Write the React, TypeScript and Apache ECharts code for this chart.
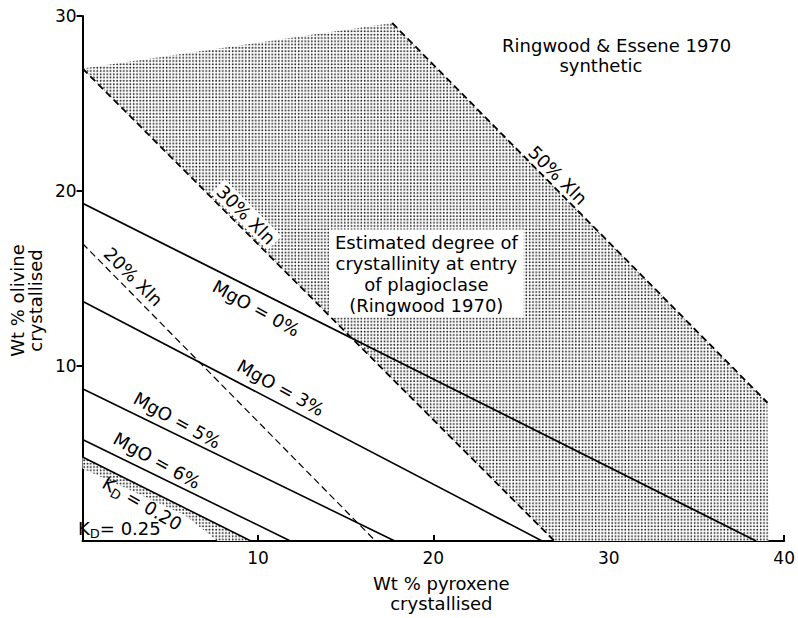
import React, { useEffect, useRef } from 'react';
import * as echarts from 'echarts';

// Straight-line trends (wt% pyroxene, wt% olivine)
const mgo0Line = [[0, 19.3], [38.4, 0]];
const mgo3Line = [[0, 13.7], [26.2, 0]];
const mgo5Line = [[0, 8.7], [17.8, 0]];
const mgo6Line = [[0, 5.8], [11.85, 0]];
const kd020Line = [[0, 4.8], [9.6, 0]];
const xln20Line = [[0, 17.0], [16.7, 0]];
const xln30Line = [[0, 27.0], [26.9, 0]];
const xln50Line = [[17.65, 29.6], [39.05, 7.9]];

// Shaded regions
const plagioclaseRegion = [[0, 27], [17.65, 29.6], [39.05, 7.9], [39.1, 0], [26.9, 0]];
const kd025Band = [[0, 4.8], [9.6, 0], [7.7, 0], [5.8, 1.5], [0, 4.15]];

// Line labels
const lineLabelTexts = ['MgO = 0%', 'MgO = 3%', 'MgO = 5%', 'MgO = 6%', '20% Xln', '30% Xln', '50% Xln'];
const lineLabelAnchors = [[9.9, 13.3], [11.3, 8.76], [5.4, 6.9], [4.25, 4.6], [2.9, 15.1], [9.33, 18.64], [27.1, 20.9]];
const lineLabelAngles = [-29, -29, -29, -29, -45, -45, -45];

const kdLabelValues = ['0.20', '0.25'];
const kdLabelAnchors = [[3.4, 2.15], [2.1, 0.73]];
const kdLabelAngles = [-30, 0];

const sourceTexts = ['Ringwood & Essene 1970', 'synthetic'];
const sourceAnchors = [[30.45, 28.3], [29.55, 27.2]];

const boxLines = ['Estimated degree of', 'crystallinity at entry', 'of plagioclase', '(Ringwood 1970)'];
const boxAnchor = [[19.6, 15.28]];

const FONT = 'DejaVu Sans';

const dotSvg =
  "<svg xmlns='http://www.w3.org/2000/svg' width='6.6' height='6.6'>" +
  "<rect width='6.6' height='6.6' fill='white'/>" +
  "<circle cx='1.65' cy='1.65' r='0.9' fill='#111'/>" +
  "<circle cx='4.95' cy='1.65' r='0.9' fill='#111'/>" +
  "<circle cx='1.65' cy='4.95' r='0.9' fill='#111'/>" +
  "<circle cx='4.95' cy='4.95' r='0.9' fill='#111'/>" +
  '</svg>';
const stipple: any = {
  image: 'data:image/svg+xml;utf8,' + encodeURIComponent(dotSvg),
  repeat: 'repeat',
  imageWidth: 6.6,
  imageHeight: 6.6,
};

function polygonSeries(name: string, pts: number[][]) {
  return {
    name,
    type: 'custom',
    coordinateSystem: 'cartesian2d',
    silent: true,
    z: 1,
    data: pts,
    renderItem: (params: any, api: any) => {
      if (params.dataIndex !== 0) return null;
      return {
        type: 'polygon',
        shape: { points: pts.map((p) => api.coord(p)) },
        style: { fill: stipple, stroke: 'none' },
      };
    },
  };
}

function lineSeries(name: string, data: number[][], dashed: boolean, width = 1.6) {
  return {
    name,
    type: 'line',
    data,
    symbol: 'none',
    silent: true,
    z: 3,
    lineStyle: { color: '#000', width, type: dashed ? [7, 4] : 'solid' },
  };
}

export default function App() {
  const ref = useRef<HTMLDivElement>(null);
  useEffect(() => {
    if (!ref.current) return;
    const chart = echarts.init(ref.current, undefined, { renderer: 'svg' });
    const textBase = { fontFamily: FONT, fontSize: 18, fill: '#000' };
    chart.setOption({
      animation: false,
      backgroundColor: '#fff',
      grid: { left: 71, right: 11, top: 16, bottom: 71, containLabel: false },
      xAxis: {
        type: 'value',
        min: 0,
        max: 40,
        interval: 10,
        name: 'Wt % pyroxene\ncrystallised',
        nameLocation: 'middle',
        nameGap: 32,
        nameTextStyle: { fontFamily: FONT, fontSize: 18, color: '#000', lineHeight: 20, padding: [0, 0, 0, 16] },
        axisLine: { lineStyle: { color: '#000', width: 2 } },
        axisTick: { inside: true, length: 6, lineStyle: { color: '#000', width: 2 } },
        axisLabel: { showMinLabel: false, fontFamily: FONT, fontSize: 17, color: '#000', margin: 8 },
        splitLine: { show: false },
      },
      yAxis: {
        type: 'value',
        min: 0,
        max: 30,
        interval: 10,
        name: 'Wt % olivine\ncrystallised',
        nameLocation: 'middle',
        nameRotate: 90,
        nameGap: 29,
        nameTextStyle: { fontFamily: FONT, fontSize: 18, color: '#000', lineHeight: 18, padding: [0, 44, 0, 0] },
        axisLine: { lineStyle: { color: '#000', width: 2 } },
        axisTick: { inside: false, length: 6, lineStyle: { color: '#000', width: 2 } },
        axisLabel: { showMinLabel: false, fontFamily: FONT, fontSize: 17, color: '#000', margin: 6 },
        splitLine: { show: false },
      },
      series: [
        polygonSeries('Plagioclase entry', plagioclaseRegion),
        polygonSeries('KD 0.25', kd025Band),
        lineSeries('MgO = 0%', mgo0Line, false, 1.8),
        lineSeries('MgO = 3%', mgo3Line, false),
        lineSeries('MgO = 5%', mgo5Line, false),
        lineSeries('MgO = 6%', mgo6Line, false),
        lineSeries('KD = 0.20', kd020Line, false),
        lineSeries('20% Xln', xln20Line, true, 1.2),
        lineSeries('30% Xln', xln30Line, true, 1.8),
        lineSeries('50% Xln', xln50Line, true, 1.8),
        {
          name: 'line labels',
          type: 'custom',
          coordinateSystem: 'cartesian2d',
          silent: true,
          z: 5,
          data: lineLabelAnchors,
          renderItem: (params: any, api: any) => {
            const i = params.dataIndex;
            const p = api.coord([api.value(0), api.value(1)]);
            const onShade = lineLabelTexts[i] === '30% Xln';
            return {
              type: 'text',
              x: p[0],
              y: p[1],
              rotation: (lineLabelAngles[i] * Math.PI) / 180,
              style: {
                ...textBase,
                text: lineLabelTexts[i],
                align: 'center',
                verticalAlign: 'middle',
                backgroundColor: onShade ? '#fff' : undefined,
                padding: onShade ? [1, 3] : 0,
              },
            };
          },
        },
        {
          name: 'KD labels',
          type: 'custom',
          coordinateSystem: 'cartesian2d',
          silent: true,
          z: 5,
          data: kdLabelAnchors,
          renderItem: (params: any, api: any) => {
            const i = params.dataIndex;
            const p = api.coord([api.value(0), api.value(1)]);
            const sep = i === 0 ? ' = ' : '= ';
            return {
              type: 'text',
              x: p[0],
              y: p[1],
              rotation: (kdLabelAngles[i] * Math.PI) / 180,
              style: {
                fontFamily: FONT,
                fill: '#000',
                text: '{a|K}{b|D}{a|' + sep + kdLabelValues[i] + '}',
                align: 'center',
                verticalAlign: 'middle',
                rich: {
                  a: { fontFamily: FONT, fontSize: 18, lineHeight: 24, verticalAlign: 'middle', fill: '#000' },
                  b: { fontFamily: FONT, fontSize: 13, verticalAlign: 'bottom', fill: '#000' },
                },
              },
            };
          },
        },
        {
          name: 'source',
          type: 'custom',
          coordinateSystem: 'cartesian2d',
          silent: true,
          z: 5,
          data: sourceAnchors,
          renderItem: (params: any, api: any) => {
            const p = api.coord([api.value(0), api.value(1)]);
            return {
              type: 'text',
              x: p[0],
              y: p[1],
              style: { ...textBase, text: sourceTexts[params.dataIndex], align: 'center', verticalAlign: 'middle' },
            };
          },
        },
        {
          name: 'note',
          type: 'custom',
          coordinateSystem: 'cartesian2d',
          silent: true,
          z: 6,
          data: boxAnchor,
          renderItem: (params: any, api: any) => {
            const p = api.coord([api.value(0), api.value(1)]);
            return {
              type: 'text',
              x: p[0],
              y: p[1],
              style: {
                ...textBase,
                text: boxLines.join('\n'),
                lineHeight: 21,
                align: 'center',
                verticalAlign: 'middle',
                backgroundColor: '#fff',
                padding: [2, 6],
              },
            };
          },
        },
      ],
    });
    return () => chart.dispose();
  }, []);
  return (
    <div
      ref={ref}
      style={{ position: 'fixed', left: 0, top: 0, width: 798, height: 618, background: '#fff' }}
    />
  );
}
